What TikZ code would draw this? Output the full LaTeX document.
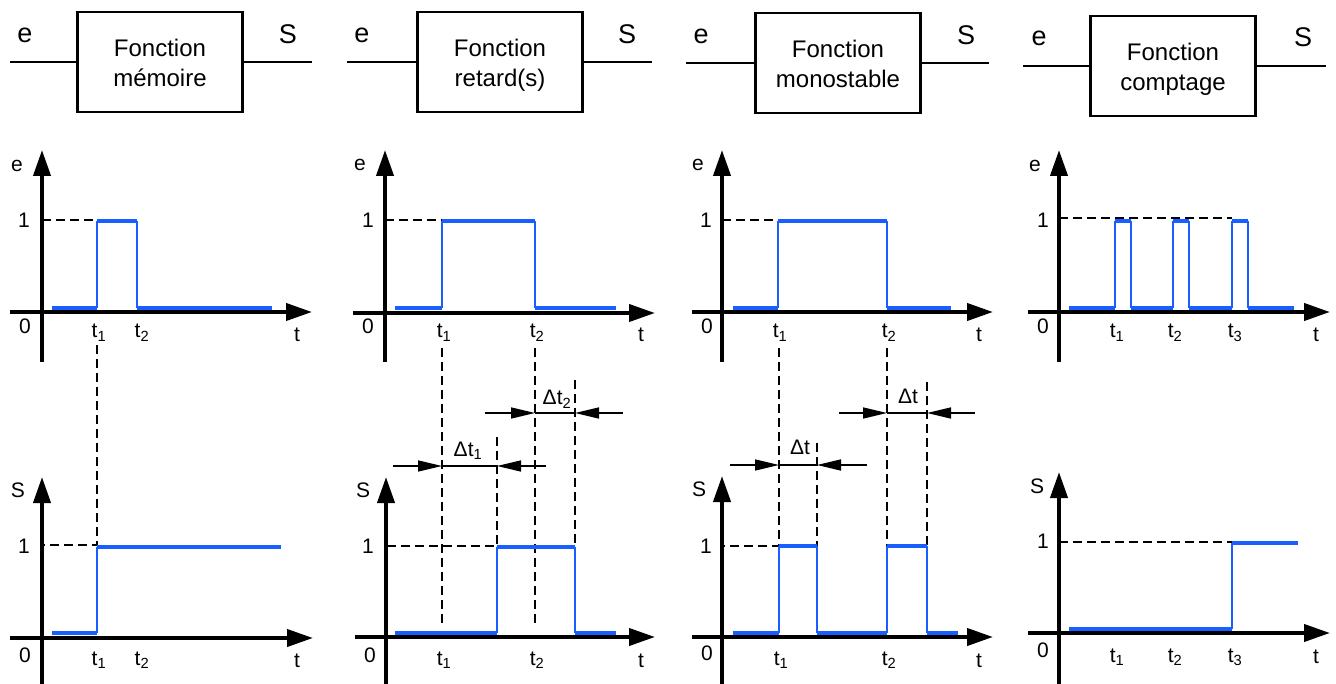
\documentclass[tikz,border=0pt]{standalone}
\usepackage{fontspec}
\setmainfont{Liberation Sans}
\usetikzlibrary{arrows.meta,positioning}
\definecolor{sigblue}{RGB}{25,95,255}
\newcommand{\boxlines}[2]{\rule{0pt}{24pt}#1\\#2\rule[-4pt]{0pt}{0pt}}

\begin{document}
\begin{tikzpicture}[x=1pt,y=-1pt,
    axis/.style={line width=4pt,-{Triangle[length=26pt,width=17pt]}},
    wire/.style={line width=2.5pt},
    blockbox/.style={draw,line width=2.5pt,minimum width=165pt,minimum height=100pt,
      inner sep=0pt,align=center,font=\fontsize{24}{30}\selectfont},
    toplbl/.style={font=\fontsize{27}{30}\selectfont,anchor=base,inner sep=0pt},
    lbl/.style={font=\fontsize{21}{24}\selectfont,anchor=base,inner sep=0pt},
    sig/.style={sigblue,line width=4pt},
    sigv/.style={sigblue,line width=2pt},
    guide/.style={line width=1.5pt,dash pattern=on 9pt off 5pt},
    dimline/.style={line width=1.5pt,-{Triangle[length=24pt,width=11pt]}},
    thinline/.style={line width=1.5pt}]
\useasboundingbox (0,0) rectangle (1336,684);

% blocs fonctionnels
\node[blockbox] (box1) at (160,62) {\boxlines{Fonction}{mémoire}};
\node[blockbox] (box2) at (500,62) {\boxlines{Fonction}{retard(s)}};
\node[blockbox] (box3) at (838,63) {\boxlines{Fonction}{monostable}};
\node[blockbox] (box4) at (1173,66) {\boxlines{Fonction}{comptage}};

\coordinate (in1) at (10,62);   \coordinate (out1) at (312,62);
\coordinate (in2) at (347,62);  \coordinate (out2) at (652,62);
\coordinate (in3) at (686,63);  \coordinate (out3) at (989,63);
\coordinate (in4) at (1023,66); \coordinate (out4) at (1326,66);
\draw[wire] (in1) -- (box1.west); \draw[wire] (box1.east) -- (out1);
\draw[wire] (in2) -- (box2.west); \draw[wire] (box2.east) -- (out2);
\draw[wire] (in3) -- (box3.west); \draw[wire] (box3.east) -- (out3);
\draw[wire] (in4) -- (box4.west); \draw[wire] (box4.east) -- (out4);

\node[toplbl] (ein1) at (25,43) {e};    \node[toplbl] (sout1) at (288,44) {S};
\node[toplbl] (ein2) at (362,43) {e};   \node[toplbl] (sout2) at (627,44) {S};
\node[toplbl] (ein3) at (701,44) {e};   \node[toplbl] (sout3) at (966,45) {S};
\node[toplbl] (ein4) at (1039,46) {e};  \node[toplbl] (sout4) at (1303,47) {S};

% ---------- memoire ----------
\draw[axis] (42,362) -- (42,150);
\draw[axis] (10,312) -- (312,312);
\draw[guide] (42,220) -- (97,220);
\draw[sig] (52,308) -- (97,308); \draw[sig] (97,221) -- (137,221); \draw[sig] (137,308) -- (272,308);
\draw[sigv] (97,308) -- (97,221); \draw[sigv] (137,221) -- (137,308);
\node[lbl] (ea1) at (17,172) {e};  \node[lbl] (ua1) at (24,228) {1};
\node[lbl] (za1) at (25,334) {0};  \node[lbl] (ta1) at (297,342) {t};
\node[lbl] (t1a1) at (99,338) {t\textsubscript{1}};
\node[lbl] (t2a1) at (142,338) {t\textsubscript{2}};

\draw[axis] (42,684) -- (42,477);
\draw[axis] (10,638) -- (313,638);
\draw[guide] (97,345) -- (97,545) -- (42,545);
\draw[sig] (52,633) -- (97,633); \draw[sig] (97,547) -- (281,547);
\draw[sigv] (97,633) -- (97,547);
\node[lbl] (sb1) at (18,497) {S};  \node[lbl] (ub1) at (24,553) {1};
\node[lbl] (zb1) at (25,662) {0};  \node[lbl] (tb1) at (297,667) {t};
\node[lbl] (t1b1) at (99,665) {t\textsubscript{1}};
\node[lbl] (t2b1) at (142,665) {t\textsubscript{2}};

% ---------- retard ----------
\draw[axis] (385,362) -- (385,150);
\draw[axis] (353,313) -- (655,313);
\draw[guide] (385,220) -- (442,220);
\draw[sig] (395,308) -- (442,308); \draw[sig] (442,221) -- (535,221); \draw[sig] (535,308) -- (616,308);
\draw[sigv] (442,308) -- (442,221); \draw[sigv] (535,221) -- (535,308);
\node[lbl] (ea2) at (360,171) {e};  \node[lbl] (ua2) at (368,228) {1};
\node[lbl] (za2) at (368,334) {0};  \node[lbl] (ta2) at (641,342) {t};
\node[lbl] (t1a2) at (444,338) {t\textsubscript{1}};
\node[lbl] (t2a2) at (537,338) {t\textsubscript{2}};

\draw[axis] (386,684) -- (386,477);
\draw[axis] (355,637) -- (655,637);
\draw[guide] (442,348) -- (442,627);
\draw[guide] (535,348) -- (535,627);
\draw[guide] (497,437) -- (497,546) -- (386,546);
\draw[guide] (575,380) -- (575,546);
\draw[sig] (395,633) -- (497,633); \draw[sig] (497,547) -- (575,547); \draw[sig] (575,633) -- (616,633);
\draw[sigv] (497,633) -- (497,547); \draw[sigv] (575,547) -- (575,633);
\draw[dimline] (393,466) -- (442,466); \draw[thinline] (442,466) -- (497,466); \draw[dimline] (546,466) -- (497,466);
\draw[dimline] (485,413) -- (535,413); \draw[thinline] (535,413) -- (575,413); \draw[dimline] (623,413) -- (575,413);
\node[lbl] (dt1) at (468,456) {Δt\textsubscript{1}};
\node[lbl] (dt2) at (557,405) {Δt\textsubscript{2}};
\node[lbl] (sb2) at (363,497) {S};  \node[lbl] (ub2) at (368,553) {1};
\node[lbl] (zb2) at (370,662) {0};  \node[lbl] (tb2) at (641,667) {t};
\node[lbl] (t1b2) at (444,665) {t\textsubscript{1}};
\node[lbl] (t2b2) at (537,665) {t\textsubscript{2}};

% ---------- monostable ----------
\draw[axis] (722,362) -- (722,150);
\draw[axis] (692,312) -- (993,312);
\draw[guide] (722,220) -- (778,220);
\draw[sig] (733,308) -- (778,308); \draw[sig] (778,221) -- (887,221); \draw[sig] (887,308) -- (951,308);
\draw[sigv] (778,308) -- (778,221); \draw[sigv] (887,221) -- (887,308);
\node[lbl] (ea3) at (698,171) {e};  \node[lbl] (ua3) at (706,228) {1};
\node[lbl] (za3) at (707,334) {0};  \node[lbl] (ta3) at (979,342) {t};
\node[lbl] (t1a3) at (780,338) {t\textsubscript{1}};
\node[lbl] (t2a3) at (889,338) {t\textsubscript{2}};

\draw[axis] (722,684) -- (722,476);
\draw[axis] (692,637) -- (993,637);
\draw[guide] (779,348) -- (779,546) -- (722,546);
\draw[guide] (817,443) -- (817,546);
\draw[guide] (887,348) -- (887,546);
\draw[guide] (927,382) -- (927,546);
\draw[sig] (733,633) -- (779,633); \draw[sig] (779,546) -- (817,546); \draw[sig] (817,633) -- (887,633);
\draw[sig] (887,546) -- (927,546); \draw[sig] (927,633) -- (958,633);
\draw[sigv] (779,633) -- (779,546); \draw[sigv] (817,546) -- (817,633);
\draw[sigv] (887,633) -- (887,546); \draw[sigv] (927,546) -- (927,633);
\draw[dimline] (730,465) -- (779,465); \draw[thinline] (779,465) -- (817,465); \draw[dimline] (867,465) -- (817,465);
\draw[dimline] (839,413) -- (887,413); \draw[thinline] (887,413) -- (927,413); \draw[dimline] (975,413) -- (927,413);
\node[lbl] (dta) at (800,454) {Δt};
\node[lbl] (dtb) at (908,403) {Δt};
\node[lbl] (sb3) at (699,496) {S};  \node[lbl] (ub3) at (706,553) {1};
\node[lbl] (zb3) at (707,660) {0};  \node[lbl] (tb3) at (979,667) {t};
\node[lbl] (t1b3) at (781,665) {t\textsubscript{1}};
\node[lbl] (t2b3) at (889,665) {t\textsubscript{2}};

% ---------- comptage ----------
\draw[axis] (1059,362) -- (1059,150);
\draw[axis] (1028,312) -- (1330,312);
\draw[guide] (1059,218) -- (1232,218);
\draw[sig] (1069,308) -- (1115,308); \draw[sig] (1115,221) -- (1131,221);
\draw[sig] (1131,308) -- (1173,308); \draw[sig] (1173,221) -- (1189,221);
\draw[sig] (1189,308) -- (1232,308); \draw[sig] (1232,221) -- (1248,221);
\draw[sig] (1248,308) -- (1294,308);
\draw[sigv] (1115,308) -- (1115,221); \draw[sigv] (1131,221) -- (1131,308);
\draw[sigv] (1173,308) -- (1173,221); \draw[sigv] (1189,221) -- (1189,308);
\draw[sigv] (1232,308) -- (1232,221); \draw[sigv] (1248,221) -- (1248,308);
\node[lbl] (ea4) at (1035,172) {e};  \node[lbl] (ua4) at (1043,228) {1};
\node[lbl] (za4) at (1043,334) {0};  \node[lbl] (ta4) at (1316,342) {t};
\node[lbl] (t1a4) at (1117,338) {t\textsubscript{1}};
\node[lbl] (t2a4) at (1175,338) {t\textsubscript{2}};
\node[lbl] (t3a4) at (1235,338) {t\textsubscript{3}};

\draw[axis] (1059,684) -- (1059,472);
\draw[axis] (1028,633) -- (1330,633);
\draw[guide] (1059,542) -- (1232,542);
\draw[sig] (1069,629) -- (1232,629); \draw[sig] (1232,543) -- (1298,543);
\draw[sigv] (1232,629) -- (1232,543);
\node[lbl] (sb4) at (1037,493) {S};  \node[lbl] (ub4) at (1043,548) {1};
\node[lbl] (zb4) at (1043,657) {0};  \node[lbl] (tb4) at (1316,663) {t};
\node[lbl] (t1b4) at (1117,662) {t\textsubscript{1}};
\node[lbl] (t2b4) at (1175,662) {t\textsubscript{2}};
\node[lbl] (t3b4) at (1235,662) {t\textsubscript{3}};
\end{tikzpicture}
\end{document}
